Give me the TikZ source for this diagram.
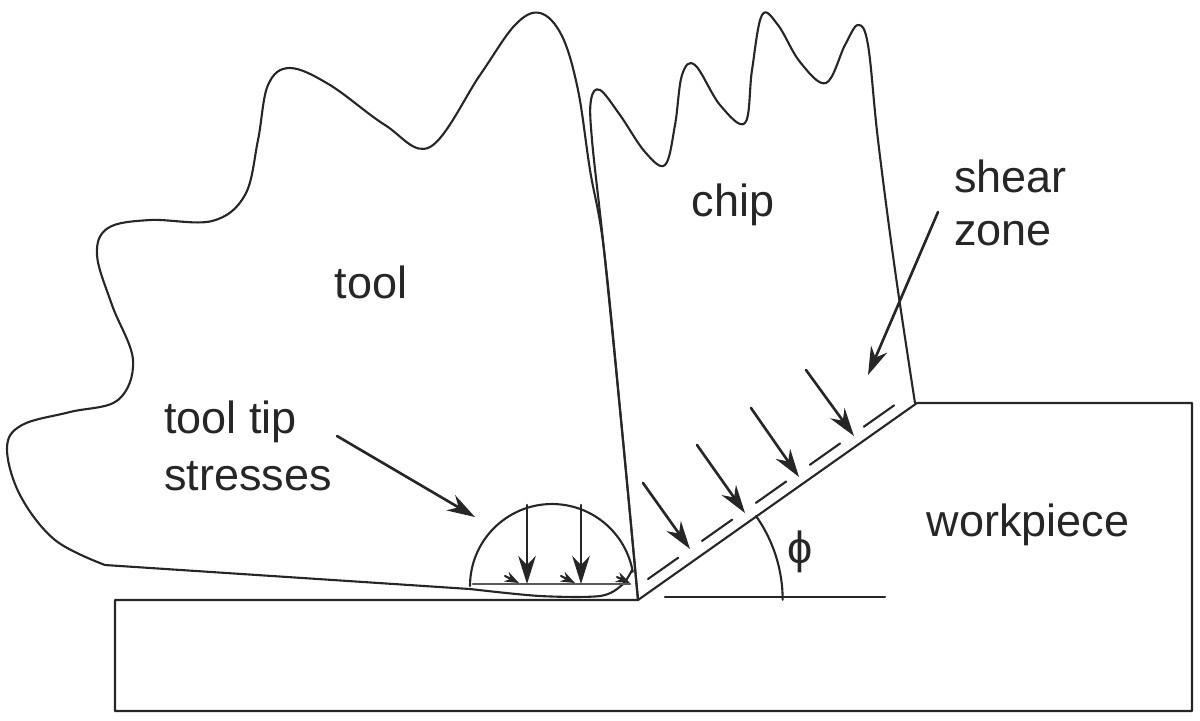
\documentclass[tikz,border=0pt]{standalone}
\usepackage{fontspec}
\setmainfont{Liberation Sans}
\usetikzlibrary{arrows.meta}
\begin{document}
\begin{tikzpicture}[>={Stealth[length=8pt,width=5pt]},x=0.01cm,y=-0.01cm,line join=round,line cap=round,line width=0.6pt,
            color=black!85,font=\fontsize{12.8}{15}\selectfont,
            lbl/.style={inner sep=0pt,align=left},
            force/.style={->,line width=0.75pt},
            small force/.style={-{Stealth[length=4pt,width=3pt]}}]
            \useasboundingbox (0,0) rectangle (1200,720);
            % workpiece
            \coordinate (tip) at (638,600);
            \coordinate (corner) at (917,403);
            \draw (tip)--(115,600)--(115,711)--(1192,711)--(1192,403)--(corner)--(tip);
            % tool
            \draw[smooth,tension=0.6] plot coordinates {(638,600) (622,430) (604,250) (590,170) (578,90) (562,36) (540,13) (515,25) (480,75) (430,147) (385,125) (330,85) (290,68) (268,85) (258,140) (245,195) (212,221) (150,220) (108,228) (97,255) (112,305) (133,360) (118,400) (70,412) (22,425) (7,448) (20,495) (55,540) (105,565)};
            \draw (105,565)--(470,589);
            \draw[smooth,tension=0.5] plot coordinates {(470,589) (540,596) (600,596) (622,585) (632,570)};
            % chip
            \draw[smooth,tension=0.6] plot coordinates {(638,600) (622,430) (604,250) (592,140) (591,100) (600,90) (620,115) (645,152) (665,165) (675,125) (682,75) (695,65) (720,105) (745,123) (752,70) (762,15) (778,25) (800,62) (826,83) (845,45) (858,25) (868,45) (878,140) (895,270) (915,403)};
            % tool tip stresses
            \draw (470,586) arc[start angle=180,end angle=350,radius=82];
            \draw[line width=0.8pt,black!65] (473,584)--(630,584);
            \coordinate (ta) at (527,505);
            \coordinate (tb) at (527,584);
            \coordinate (tc) at (581,505);
            \coordinate (td) at (581,584);
            \draw[force] (ta)--(tb);
            \draw[force] (tc)--(td);
            \coordinate (sa) at (505,576);
            \coordinate (sb) at (519,583);
            \coordinate (sc) at (561,576);
            \coordinate (sd) at (575,583);
            \coordinate (se) at (617,577);
            \coordinate (sf) at (630,583);
            \draw[small force] (sa)--(sb);
            \draw[small force] (sc)--(sd);
            \draw[small force] (se)--(sf);
            % shear plane stresses
            \coordinate (fa) at (643,483);
            \coordinate (fb) at (690,549);
            \coordinate (fc) at (697,445);
            \coordinate (fd) at (745,513);
            \coordinate (fe) at (751,408);
            \coordinate (ff) at (799,477);
            \coordinate (fg) at (806,370);
            \coordinate (fh) at (854,436);
            \draw[force] (fa)--(fb);
            \draw[force] (fc)--(fd);
            \draw[force] (fe)--(ff);
            \draw[force] (fg)--(fh);
            \coordinate (da) at (648,579);
            \coordinate (db) at (896,404);
            \draw[dash pattern=on 0.37cm off 0.29cm] (da)--(db);
            % angle
            \coordinate (ha) at (665,597);
            \coordinate (hb) at (885,597);
            \draw[line width=0.7pt] (ha)--(hb);
            \draw (756,516) arc[start angle=-35.3,end angle=0,radius=145];
            \node[lbl] (phi) at (800,552) {ϕ};
            % labels
            \node[lbl] (tool) at (371,282) {tool};
            \node[lbl] (chip) at (733,205) {chip};
            \node[lbl] (workpiece) at (1028,525) {workpiece};
            \node[lbl,anchor=west] (shear) at (953,203) {shear\\zone};
            \node[lbl,anchor=west,font=\fontsize{12.8}{16.2}\selectfont] (stresses) at (163,446) {tool tip\\stresses};
            \coordinate (sza) at (938,212);
            \coordinate (szb) at (868,375);
            \coordinate (tsa) at (337,436);
            \coordinate (tsb) at (475,517);
            \draw[force] (sza)--(szb);
            \draw[force] (tsa)--(tsb);
        \end{tikzpicture}
\end{document}
